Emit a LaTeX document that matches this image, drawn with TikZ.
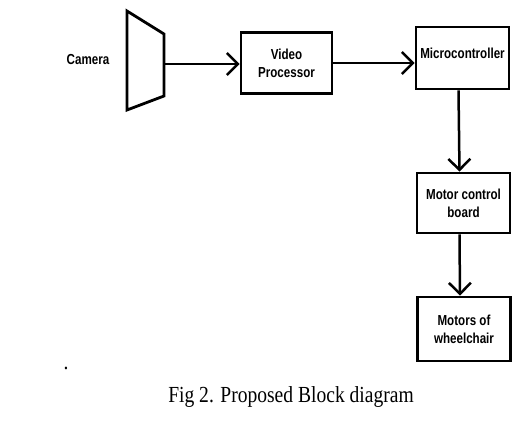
\documentclass[tikz,border=0pt]{standalone}
\usepackage{fontspec}
\usetikzlibrary{arrows.meta}
\newfontfamily\blockfont[FakeStretch=0.8]{Liberation Sans}
\newfontfamily\captionfont[FakeStretch=0.85]{Liberation Serif}

\begin{document}
\begin{tikzpicture}[x=1pt, y=-1pt,
    block/.style={draw, line width=2.8pt, minimum width=93, minimum height=61, inner sep=0pt, align=center,
      font=\blockfont\bfseries\fontsize{14.5}{18}\selectfont},
    arr/.style={line width=2.5pt, -{Straight Barb[length=11pt, width=22pt, line width=2.5pt]}}]
    \useasboundingbox (0,0) rectangle (512,434);
    % camera
    \draw [line width=2.8pt, line join=miter] (127,11) -- (164,34) -- (164,96) -- (127,110) -- cycle;
    \coordinate (cam) at (164,64);
    \node [font=\blockfont\bfseries\fontsize{14.5}{18}\selectfont] (camlabel) at (88,60) {Camera};
    % blocks
    \node [block, minimum width=91] (vp) at (286.5,63) {Video\\Processor};
    \node [block, minimum height=62, text depth=9pt] (micro) at (462.5,58) {Microcontroller};
    \node [block, minimum height=60] (mcb) at (463.5,203) {Motor control\\board};
    \node [block, minimum height=64] (motors) at (464,329) {Motors of\\wheelchair};
    % connectors
    \draw [arr] (cam) -- (cam -| vp.west);
    \draw [arr] (vp.east) -- (vp.east -| micro.west);
    \draw [arr] ([xshift=-4pt]micro.south) -- ([xshift=-4pt]mcb.north);
    \draw [arr] ([xshift=-4pt]mcb.south) -- ([xshift=-4pt]motors.north);
    % caption
    \node [font=\captionfont\fontsize{23}{26}\selectfont] (dot) at (66,368) {.};
    \node [anchor=base, font=\captionfont\fontsize{23}{26}\selectfont] (caption) at (291,402) {Fig 2. Proposed Block diagram};
\end{tikzpicture}
\end{document}
